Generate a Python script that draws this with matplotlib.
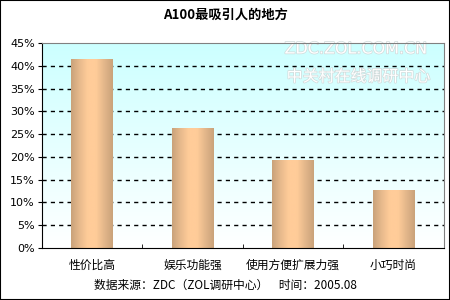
import numpy as np
import matplotlib.pyplot as plt
import matplotlib.patheffects as pe
from matplotlib.patches import Rectangle
from matplotlib.colors import LinearSegmentedColormap

plt.rcParams['font.family'] = ['Noto Sans CJK SC', 'DejaVu Sans']

categories = ['性价比高', '娱乐功能强', '使用方便扩展力强', '小巧时尚']
values = [41.6, 26.4, 19.3, 12.7]
yticks = [0, 5, 10, 15, 20, 25, 30, 35, 40, 45]
title = 'A100最吸引人的地方'
footer = '数据来源：ZDC（ZOL调研中心）    时间：2005.08'

fig = plt.figure(figsize=(4.5, 3), dpi=100)
ax = fig.add_axes([0.093, 0.1733, 0.893, 0.6833])

x = np.arange(len(categories))

# background gradient: light cyan at top to white at bottom
bg = LinearSegmentedColormap.from_list('bg', ['#ffffff', '#ccffff'])
grad = np.linspace(0, 1, 256).reshape(-1, 1)
ax.imshow(grad, cmap=bg, aspect='auto', origin='lower',
          extent=(-0.5, len(categories) - 0.5, 0, 45), zorder=0)

# dashed grid
for t in yticks[1:-1]:
    ax.axhline(t, color='black', lw=1, ls=(0, (3, 3)), zorder=1)

# bars with a horizontal tan gradient
barcm = LinearSegmentedColormap.from_list(
    'bar', ['#c9a27a', '#e6b98c', '#ffcc99', '#ffcc99', '#e2b68a', '#c9a27a'])
hgrad = np.linspace(0, 1, 256).reshape(1, -1)
bars = ax.bar(x, values, width=0.41, color='none', edgecolor='none', zorder=2)
for b in bars:
    x0, w, h = b.get_x(), b.get_width(), b.get_height()
    im = ax.imshow(hgrad, cmap=barcm, aspect='auto',
                   extent=(x0, x0 + w, 0, h), zorder=2)
    im.set_clip_path(b)

ax.set_xlim(-0.5, len(categories) - 0.5)
ax.set_ylim(0, 45)

ax.set_yticks(yticks)
ax.set_yticklabels([f'{t}%' for t in yticks], fontsize=8, family='DejaVu Sans')
ax.tick_params(axis='y', direction='out', length=3, pad=2)
ax.set_xticks(x)
ax.set_xticklabels(categories, fontsize=8.5)
ax.tick_params(axis='x', length=0, pad=8)
ax.set_xticks(np.arange(len(categories) + 1) - 0.5, minor=True)
ax.tick_params(axis='x', which='minor', direction='in', length=3)

for s in ['top', 'right']:
    ax.spines[s].set_color('#808080')
for s in ['left', 'bottom']:
    ax.spines[s].set_color('black')

# watermark, under the grid lines
wm = dict(color='white', ha='right', va='center', zorder=0.5,
          transform=fig.transFigure, clip_on=False,
          path_effects=[pe.withStroke(linewidth=1.0, foreground='#d0dada')])
ax.text(0.95, 1 - 49 / 300, 'ZDC.ZOL.COM.CN', fontsize=11.5,
        family='DejaVu Sans', **wm)
ax.text(0.957, 1 - 77 / 300, '中关村在线调研中心', fontsize=11.5, **wm)

fig.text(0.5, 1 - 15 / 300, title, ha='center', va='center',
         fontsize=9.5, fontweight='bold')
fig.text(0.5, 1 - 285 / 300, footer, ha='center', va='center', fontsize=8.5)

fig.add_artist(Rectangle((0, 0), 1, 1, transform=fig.transFigure,
                         fill=False, edgecolor='black', lw=1.5))

fig.savefig('out.png', dpi=100)
